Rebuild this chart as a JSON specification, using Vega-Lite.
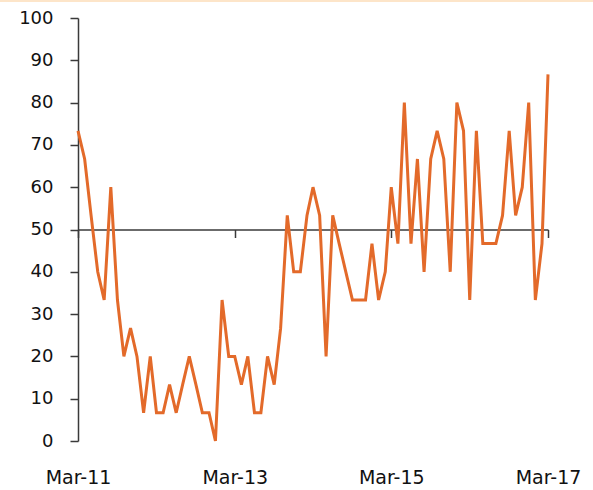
{
  "$schema": "https://vega.github.io/schema/vega-lite/v6.json",
  "width": 470,
  "height": 423,
  "autosize": {"type": "none"},
  "padding": {"left": 78, "top": 18, "right": 45, "bottom": 49},
  "background": "white",
  "config": {"view": {"stroke": null}, "font": "DejaVu Sans"},
  "data": {"values": [
    {"date": "2011-03-01", "v": 73.33}, {"date": "2011-04-01", "v": 66.67}, {"date": "2011-05-01", "v": 53.33}, {"date": "2011-06-01", "v": 40},
    {"date": "2011-07-01", "v": 33.33}, {"date": "2011-08-01", "v": 60}, {"date": "2011-09-01", "v": 33.33}, {"date": "2011-10-01", "v": 20},
    {"date": "2011-11-01", "v": 26.67}, {"date": "2011-12-01", "v": 20},
    {"date": "2012-01-01", "v": 6.67}, {"date": "2012-02-01", "v": 20}, {"date": "2012-03-01", "v": 6.67}, {"date": "2012-04-01", "v": 6.67},
    {"date": "2012-05-01", "v": 13.33}, {"date": "2012-06-01", "v": 6.67}, {"date": "2012-07-01", "v": 13.33}, {"date": "2012-08-01", "v": 20},
    {"date": "2012-09-01", "v": 13.33}, {"date": "2012-10-01", "v": 6.67}, {"date": "2012-11-01", "v": 6.67}, {"date": "2012-12-01", "v": 0},
    {"date": "2013-01-01", "v": 33.33}, {"date": "2013-02-01", "v": 20}, {"date": "2013-03-01", "v": 20}, {"date": "2013-04-01", "v": 13.33},
    {"date": "2013-05-01", "v": 20}, {"date": "2013-06-01", "v": 6.67}, {"date": "2013-07-01", "v": 6.67}, {"date": "2013-08-01", "v": 20},
    {"date": "2013-09-01", "v": 13.33}, {"date": "2013-10-01", "v": 26.67}, {"date": "2013-11-01", "v": 53.33}, {"date": "2013-12-01", "v": 40},
    {"date": "2014-01-01", "v": 40}, {"date": "2014-02-01", "v": 53.33}, {"date": "2014-03-01", "v": 60}, {"date": "2014-04-01", "v": 53.33},
    {"date": "2014-05-01", "v": 20}, {"date": "2014-06-01", "v": 53.33}, {"date": "2014-07-01", "v": 46.67}, {"date": "2014-08-01", "v": 40},
    {"date": "2014-09-01", "v": 33.33}, {"date": "2014-10-01", "v": 33.33}, {"date": "2014-11-01", "v": 33.33}, {"date": "2014-12-01", "v": 46.67},
    {"date": "2015-01-01", "v": 33.33}, {"date": "2015-02-01", "v": 40}, {"date": "2015-03-01", "v": 60}, {"date": "2015-04-01", "v": 46.67},
    {"date": "2015-05-01", "v": 80}, {"date": "2015-06-01", "v": 46.67}, {"date": "2015-07-01", "v": 66.67}, {"date": "2015-08-01", "v": 40},
    {"date": "2015-09-01", "v": 66.67}, {"date": "2015-10-01", "v": 73.33}, {"date": "2015-11-01", "v": 66.67}, {"date": "2015-12-01", "v": 40},
    {"date": "2016-01-01", "v": 80}, {"date": "2016-02-01", "v": 73.33}, {"date": "2016-03-01", "v": 33.33}, {"date": "2016-04-01", "v": 73.33},
    {"date": "2016-05-01", "v": 46.67}, {"date": "2016-06-01", "v": 46.67}, {"date": "2016-07-01", "v": 46.67}, {"date": "2016-08-01", "v": 53.33},
    {"date": "2016-09-01", "v": 73.33}, {"date": "2016-10-01", "v": 53.33}, {"date": "2016-11-01", "v": 60}, {"date": "2016-12-01", "v": 80},
    {"date": "2017-01-01", "v": 33.33}, {"date": "2017-02-01", "v": 46.67}, {"date": "2017-03-01", "v": 86.67}
  ]},
  "layer": [
    {
      "mark": {"type": "rule", "color": "#fde5c9", "strokeWidth": 2, "clip": false},
      "encoding": {
        "y": {"datum": 104.1, "type": "quantitative"},
        "x": {"datum": {"year": 2010, "month": 1, "date": 1, "utc": true}, "type": "temporal"},
        "x2": {"datum": {"year": 2018, "month": 6, "date": 1, "utc": true}}
      }
    },
    {
      "mark": {"type": "line", "color": "#e36a2a", "strokeWidth": 3, "strokeJoin": "miter"},
      "encoding": {
        "x": {
          "field": "date", "type": "temporal",
          "scale": {"type": "utc", "domain": [{"year": 2011, "month": 3, "date": 1, "utc": true}, {"year": 2017, "month": 3, "date": 1, "utc": true}]},
          "axis": {
            "title": null, "format": "%b-%y", "grid": false,
            "values": [
              {"year": 2011, "month": 3, "date": 1, "utc": true},
              {"year": 2013, "month": 3, "date": 1, "utc": true},
              {"year": 2015, "month": 3, "date": 1, "utc": true},
              {"year": 2017, "month": 3, "date": 1, "utc": true}
            ],
            "offset": -211.5,
            "domain": true, "domainColor": "#3a3a3a", "domainWidth": 1.5,
            "ticks": true, "tickColor": "#3a3a3a", "tickWidth": 1.5, "tickSize": 8,
            "labelPadding": 231, "labelFontSize": 19, "labelColor": "#111111",
            "labelFont": "DejaVu Sans", "labelAlign": "center", "labelFlush": false, "labelOverlap": false
          }
        },
        "y": {
          "field": "v", "type": "quantitative",
          "scale": {"domain": [0, 100], "nice": false},
          "axis": {
            "title": null, "values": [0, 10, 20, 30, 40, 50, 60, 70, 80, 90, 100], "grid": false,
            "domain": true, "domainColor": "#3a3a3a", "domainWidth": 1.5,
            "ticks": true, "tickColor": "#3a3a3a", "tickWidth": 1.5, "tickSize": 8,
            "labelPadding": 17, "labelFontSize": 18, "labelColor": "#111111", "labelFont": "DejaVu Sans"
          }
        }
      }
    }
  ]
}
